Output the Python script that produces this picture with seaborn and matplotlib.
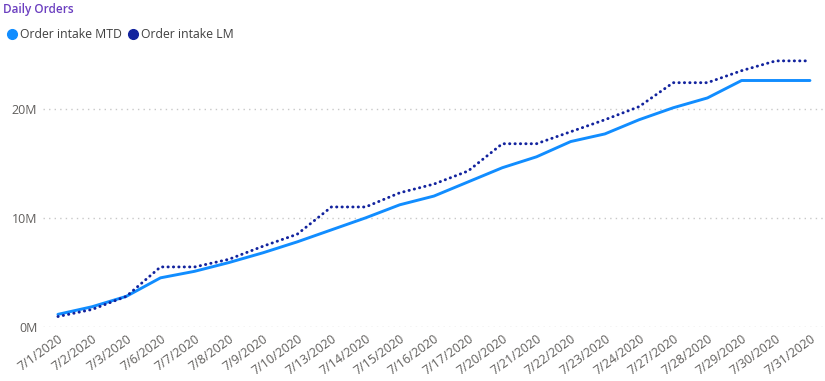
import pandas as pd
import matplotlib.pyplot as plt
import seaborn as sns
from matplotlib.lines import Line2D

# ==============================
# Data (values in millions)
# ==============================

dates = ["7/1/2020", "7/2/2020", "7/3/2020", "7/6/2020", "7/7/2020", "7/8/2020",
         "7/9/2020", "7/10/2020", "7/13/2020", "7/14/2020", "7/15/2020", "7/16/2020",
         "7/17/2020", "7/20/2020", "7/21/2020", "7/22/2020", "7/23/2020", "7/24/2020",
         "7/27/2020", "7/28/2020", "7/29/2020", "7/30/2020", "7/31/2020"]

intake_mtd = [1.15, 1.85, 2.8, 4.5, 5.1, 5.9, 6.8, 7.8, 8.9, 10.0, 11.2, 12.0,
              13.3, 14.6, 15.6, 17.0, 17.7, 19.0, 20.1, 21.0, 22.6, 22.6, 22.6]

intake_lm = [0.95, 1.6, 2.8, 5.5, 5.5, 6.2, 7.4, 8.5, 11.0, 11.0, 12.3, 13.1,
             14.3, 16.8, 16.8, 17.9, 19.0, 20.2, 22.4, 22.4, 23.5, 24.4, 24.4]

series_names = ["Order intake MTD", "Order intake LM"]
series_colors = ["#118DFF", "#12239E"]

df = pd.DataFrame({
    "date": dates * 2,
    "value": [v * 1e6 for v in intake_mtd + intake_lm],
    "series": [series_names[0]] * len(dates) + [series_names[1]] * len(dates),
})

# ==============================
# Plot
# ==============================

sns.set_style("white")
plt.rcParams["font.family"] = ["Open Sans", "DejaVu Sans"]

fig = plt.figure(figsize=(8.25, 3.81), dpi=100)
ax = fig.add_axes([0.052, 0.142, 0.948, 0.744])

sns.lineplot(
    data=df, x="date", y="value", hue="series", style="series",
    palette=series_colors, dashes={series_names[0]: "", series_names[1]: (0.1, 1.75)},
    linewidth=2.1, sort=False, legend=False, ax=ax,
)
# round caps so the LM line reads as dots
for line in ax.get_lines():
    line.set_solid_capstyle("round")
    line.set_dash_capstyle("round")

ax.set_xlim(-0.44, len(dates) - 1 + 0.44)
ax.set_ylim(0, 26e6)
ax.set_yticks([0, 10e6, 20e6])
ax.set_yticklabels(["0M", "10M", "20M"])
ax.set_xlabel("")
ax.set_ylabel("")

ax.yaxis.grid(True, color="#C8C8C8", linestyle=(0, (1, 3)), linewidth=1)
ax.xaxis.grid(False)
for s in ax.spines.values():
    s.set_visible(False)

ax.tick_params(axis="y", length=0, labelsize=9, labelcolor="#605E5C", pad=4)
ax.tick_params(axis="x", length=0, labelsize=9, labelcolor="#605E5C", pad=4)
plt.setp(ax.get_xticklabels(), rotation=36, ha="right", rotation_mode="anchor")

fig.text(0.004, 0.992, "Daily Orders", color="#6B3FC0", fontsize=8.5,
         fontweight="semibold", va="top", ha="left")

handles = [Line2D([], [], marker="o", linestyle="", color=c, markersize=7)
           for c in series_colors]
fig.legend(handles, series_names, loc="upper left", bbox_to_anchor=(-0.008, 0.955),
           ncol=2, frameon=False, fontsize=8.8, handletextpad=0.05,
           columnspacing=0.35, handlelength=1.2, labelcolor="#404040")

plt.savefig("out.png", dpi=100)
plt.close()
